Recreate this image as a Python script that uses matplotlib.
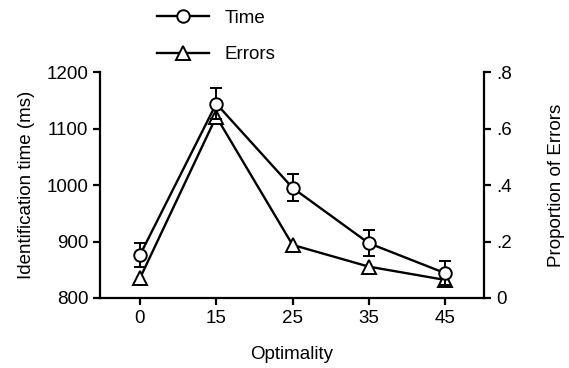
import matplotlib
matplotlib.use("Agg")
import matplotlib.pyplot as plt
from matplotlib.lines import Line2D

categories = ["0", "15", "25", "35", "45"]
time_ms = [876, 1144, 995, 897, 844]
time_se = [22, 27, 24, 23, 21]
errors = [0.07, 0.642, 0.188, 0.111, 0.064]
left_ticks = [800, 900, 1000, 1100, 1200]
right_ticks = [0, 0.2, 0.4, 0.6, 0.8]
right_labels = ["0", ".2", ".4", ".6", ".8"]

plt.rcParams["font.family"] = ["Liberation Sans", "DejaVu Sans"]
plt.rcParams["font.size"] = 13.5

fig = plt.figure(figsize=(5.69, 3.68), dpi=100)
ax = fig.add_axes([100/569, 1-298/368, 384/569, 226/368])
ax2 = ax.twinx()

x = list(range(len(categories)))

ax2.plot(x, errors, color="black", lw=1.7, marker="^", markersize=10,
         markerfacecolor="white", markeredgecolor="black", markeredgewidth=1.4, zorder=3)
ax2.set_ylim(0, 0.8)
ax2.set_yticks(right_ticks)
ax2.set_yticklabels(right_labels)
ax2.set_ylabel("Proportion of Errors", labelpad=26)

ax.errorbar(x, time_ms, yerr=time_se, color="black", lw=1.7, marker="o", markersize=9,
            markerfacecolor="white", markeredgecolor="black", markeredgewidth=1.4,
            capsize=4, elinewidth=1.4, capthick=1.4, zorder=4)
ax.set_zorder(ax2.get_zorder() + 1)
ax.patch.set_visible(False)

ax.set_ylim(800, 1200)
ax.set_yticks(left_ticks)
ax.set_xlim(-0.524, 4.51)
ax.set_xticks(x)
ax.set_xticklabels(categories)
ax.set_ylabel("Identification time (ms)", labelpad=8)
ax.set_xlabel("Optimality", labelpad=14)

for a in (ax, ax2):
    a.spines["top"].set_visible(False)
    for s in a.spines.values():
        s.set_linewidth(1.6)
    a.tick_params(width=1.6, length=5, direction="out")
ax.spines["right"].set_visible(False)
ax2.spines["left"].set_visible(False)
ax2.spines["bottom"].set_visible(False)

handles = [
    Line2D([], [], color="black", lw=1.7, marker="o", markersize=9,
           markerfacecolor="white", markeredgewidth=1.4),
    Line2D([], [], color="black", lw=1.7, marker="^", markersize=10,
           markerfacecolor="white", markeredgewidth=1.4),
]
fig.legend(handles, ["Time", "Errors"], loc="upper left",
           bbox_to_anchor=(140/569, 1.02), frameon=False,
           handlelength=2.8, handletextpad=0.8, labelspacing=1.05, fontsize=13.5)

fig.savefig("out.png", dpi=100)
